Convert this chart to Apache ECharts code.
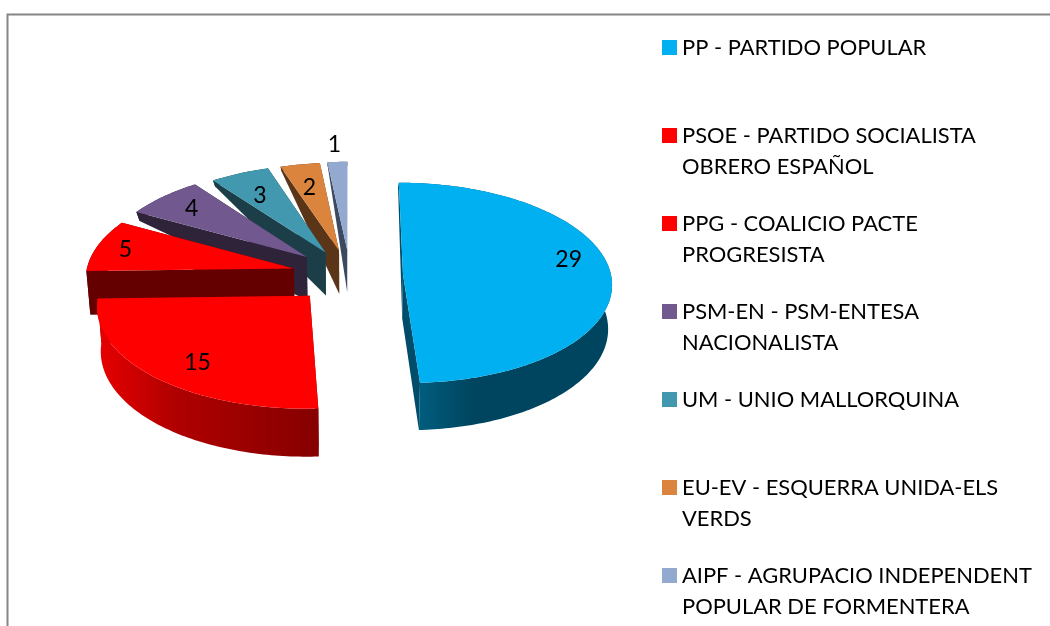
<!DOCTYPE html>
<html>
<head>
<meta charset="utf-8">
<style>
    html, body { margin: 0; padding: 0; background: #fff; }
    #chart { width: 1050px; height: 626px; }
</style>
<script src="https://cdn.jsdelivr.net/npm/echarts@6/dist/echarts.min.js"></script>
</head>
<body>
<div id="chart"></div>
<script>
const parties = [
    "PP - PARTIDO POPULAR",
    "PSOE - PARTIDO SOCIALISTA\nOBRERO ESPAÑOL",
    "PPG - COALICIO PACTE\nPROGRESISTA",
    "PSM-EN - PSM-ENTESA\nNACIONALISTA",
    "UM - UNIO MALLORQUINA",
    "EU-EV - ESQUERRA UNIDA-ELS\nVERDS",
    "AIPF - AGRUPACIO INDEPENDENT\nPOPULAR DE FORMENTERA",
];
const seats = [29, 15, 5, 4, 3, 2, 1];

const topColors = ["#00b0f0", "#ff0000", "#ff0000", "#71588f", "#4198af", "#db843d", "#93a9cf"];
const sideColors = ["#004c6b", "#8b0000", "#650000", "#2e2338", "#1b3e49", "#5a3518", "#3b4a60"];
const wallStops = [
    ["#00668a", "#00455f", "#00455f"],
    ["#e80000", "#b00000", "#850000"],
    ["#650000", "#650000", "#650000"],
    ["#2e2338", "#2e2338", "#2e2338"],
    ["#1b3e49", "#1b3e49", "#1b3e49"],
    ["#5a3518", "#5a3518", "#5a3518"],
    ["#3b4a60", "#3b4a60", "#3b4a60"],
];
// how far each slice is pulled out of the pie
const explode = [0.255, 0.28, 0.28, 0.28, 0.26, 0.255, 0.26];
// where each number sits: along the slice radius, then a small pixel shift
const labelRadius = [0.78, 0.72, 0.8, 0.75, 0.8, 0.85, 1.22];
const labelShift = [[4, -13], [-2, 10], [-11, 0], [-6, -3], [4, 7], [4, 11], [-1, 0]];

const cx = 350, cy = 275, radiusX = 208, radiusY = 99.5;
const perspective = 0.085;
const total = seats.reduce((a, b) => a + b, 0);
const deg = Math.PI / 180;

// wall height shrinks towards the back of the pie
function depthAt(v) {
    if (v <= -0.67) return Math.max(4, 9 + (v + 0.67) * 8);
    if (v <= -0.25) return 9 + ((v + 0.67) / 0.42) * 34;
    return 43 + ((v + 0.25) / 1.45) * 5;
}

function project(u, v, base) {
    const p = 1 / (1 - perspective * v);
    let x = cx + radiusX * u * p;
    let y = cy + radiusY * v * p;
    if (base) {
        x = cx + (x - cx) * 0.985;
        y += depthAt(v);
    }
    return [x, y];
}

function renderSlice(i) {
    return function (params, api) {
        const before = seats.slice(0, i).reduce((a, b) => a + b, 0);
        const a0 = (before / total) * 360;
        const a1 = ((before + api.value(0)) / total) * 360;
        const mid = ((a0 + a1) / 2) * deg;
        const ox = explode[i] * Math.sin(mid);
        const oy = -explode[i] * Math.cos(mid);

        const rim = [];
        for (let a = a0; a < a1; a += 1) rim.push(a);
        rim.push(a1);
        const at = (a) => [ox + Math.sin(a * deg), oy - Math.cos(a * deg)];
        const topRim = rim.map((a) => project(at(a)[0], at(a)[1], false));
        const baseRim = rim.map((a) => project(at(a)[0], at(a)[1], true));
        const tipTop = project(ox, oy, false);
        const tipBase = project(ox, oy, true);
        const wallFill = new echarts.graphic.LinearGradient(0, 0, 1, 0, [
            { offset: 0, color: wallStops[i][0] },
            { offset: 0.35, color: wallStops[i][1] },
            { offset: 1, color: wallStops[i][2] },
        ]);
        const poly = (points, fill) => ({ type: "polygon", shape: { points }, style: { fill } });

        const last = rim.length - 1;
        const lr = labelRadius[i];
        const lp = project(ox + lr * Math.sin(mid), oy - lr * Math.cos(mid), false);
        return {
            type: "group",
            children: [
                poly([tipTop, topRim[last], baseRim[last], tipBase], sideColors[i]),
                poly(topRim.concat(baseRim.slice().reverse()), wallFill),
                poly([tipTop, topRim[0], baseRim[0], tipBase], sideColors[i]),
                poly([tipTop].concat(topRim), topColors[i]),
                {
                    type: "text",
                    style: {
                        x: lp[0] + labelShift[i][0],
                        y: lp[1] + labelShift[i][1],
                        text: String(api.value(0)),
                        fill: "#000",
                        font: "23px Lato",
                        align: "center",
                        verticalAlign: "middle",
                    },
                },
            ],
        };
    };
}

const chart = echarts.init(document.getElementById("chart"), null, { renderer: "canvas" });
chart.setOption({
    animation: false,
    backgroundColor: "#fff",
    graphic: [
        {
            type: "polyline",
            shape: { points: [[7.5, 626], [7.5, 14.5], [1050, 14.5]] },
            style: { stroke: "#868686", lineWidth: 2, fill: null },
        },
    ],
    legend: {
        orient: "vertical",
        left: 662,
        top: 32,
        padding: 0,
        itemWidth: 15,
        itemHeight: 62,
        itemGap: 26,
        selectedMode: false,
        icon: "path://M0,8H15V23H0Z M0,0L15,0L15,0Z M0,62L15,62L15,62Z",
        data: parties,
        formatter: (name) => (name.includes("\n") ? name : name + "\n "),
        textStyle: { fontFamily: "Lato", fontSize: 21.9, lineHeight: 31, color: "#000" },
    },
    series: parties.map((name, i) => ({
        type: "custom",
        name,
        coordinateSystem: "none",
        z: 10 - i,
        silent: true,
        itemStyle: { color: topColors[i] },
        renderItem: renderSlice(i),
        data: [[seats[i]]],
    })),
});
</script>
</body>
</html>
